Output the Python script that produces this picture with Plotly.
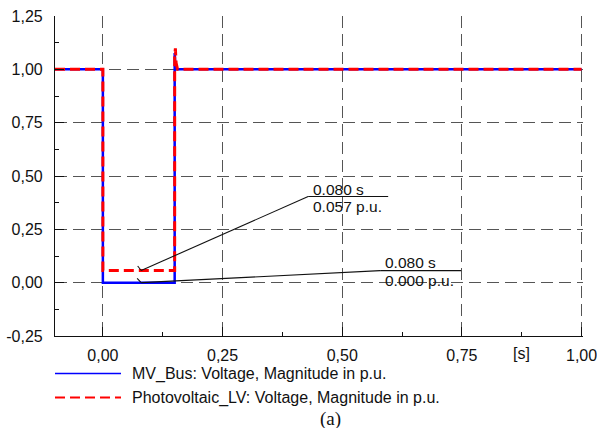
import plotly.graph_objects as go

# ---- data ----
t_mv = [-0.1, 0.0, 0.0, 0.08, 0.15, 0.15, 0.1505, 0.152, 0.155, 0.50, 1.0]
v_mv = [1.0, 1.0, 0.0, 0.0, 0.0, 1.076, 1.02, 1.0, 1.0, 1.0, 1.0]
t_pv = [-0.1, 0.0, 0.0, 0.08, 0.15, 0.15, 0.1515, 0.153, 0.156, 0.50, 1.0]
v_pv = [1.0, 1.0, 0.057, 0.057, 0.057, 1.06, 1.098, 1.03, 1.0, 1.0, 1.0]

cursor_t = [0.080, 0.080]
cursor_v = [0.057, 0.000]

x_tickvals = [0.0, 0.25, 0.5, 0.75, 1.0]
x_ticktext = ["0,00", "0,25", "0,50", "0,75", "1,00"]
y_tickvals = [-0.25, 0.0, 0.25, 0.5, 0.75, 1.0, 1.25]
y_ticktext = ["-0,25", "0,00", "0,25", "0,50", "0,75", "1,00", "1,25"]

names = ["MV_Bus: Voltage, Magnitude in p.u.",
         "Photovoltaic_LV: Voltage, Magnitude in p.u."]

FONT = "Liberation Sans, Arial, sans-serif"
BLUE = "#0000ff"
RED = "#ff0000"
FS = 16

fig = go.Figure()
fig.add_trace(go.Scatter(x=t_mv, y=v_mv, mode="lines", name=names[0],
                         line=dict(color=BLUE, width=2.5)))
fig.add_trace(go.Scatter(x=t_pv, y=v_pv, mode="lines", name=names[1],
                         line=dict(color=RED, width=3, dash="10px,5px")))

grid = dict(showgrid=True, gridcolor="#555555", gridwidth=1, griddash="12px,6px")
axcommon = dict(ticks="inside", ticklen=9, tickcolor="#111", tickwidth=1.2,
                showline=True, linecolor="#111", linewidth=1.2, zeroline=False,
                automargin=False, ticklabeloverflow="allow",
                minor=dict(dtick=0.125, tick0=0, ticks="inside", ticklen=4,
                           tickcolor="#111", showgrid=False),
                tickfont=dict(family=FONT, size=FS, color="#111"), **grid)

fig.update_xaxes(range=[-0.1, 1.003], tickvals=x_tickvals, ticktext=x_ticktext,
                 ticklabelstandoff=5, **axcommon)
fig.update_yaxes(range=[-0.25, 1.25], tickvals=y_tickvals, ticktext=y_ticktext,
                 ticklabelstandoff=8, **axcommon)

shapes = []
annotations = []

# cursor callouts (pixel offsets relative to the data point)
callouts = [
    dict(line=(167, 74), under=(167, 247), top=81.5, bot=64, tick=(-3.5, 4.5)),
    dict(line=(239, 12), under=(239, 320), top=20, bot=2.5, tick=(-4, 4.4)),
]
for ct, cv, c in zip(cursor_t, cursor_v, callouts):
    common = dict(type="line", xref="x", yref="y", xsizemode="pixel", ysizemode="pixel",
                  xanchor=ct, yanchor=cv, line=dict(color="#111", width=1.1))
    shapes.append(dict(common, x0=0, y0=0, x1=c["line"][0], y1=c["line"][1]))
    shapes.append(dict(common, x0=c["under"][0], y0=c["line"][1],
                       x1=c["under"][1], y1=c["line"][1]))
    shapes.append(dict(common, x0=c["tick"][0], y0=c["tick"][1], x1=0, y1=0))
    for txt, dy in ((f"{ct:.3f} s", c["top"]), (f"{cv:.3f} p.u.", c["bot"])):
        annotations.append(dict(x=ct, y=cv, xref="x", yref="y", text=txt,
                                showarrow=False, xanchor="left", yanchor="middle",
                                xshift=c["line"][0] + 4, yshift=dy, borderpad=0,
                                font=dict(family=FONT, size=15.5, color="#111")))

# manual legend below plot
for i, (nm, col, dash) in enumerate(zip(names, [BLUE, RED], ["solid", "10px,5px"])):
    dy = -37.5 - 24 * i
    shapes.append(dict(type="line", xref="paper", yref="paper", xsizemode="pixel",
                       ysizemode="pixel", xanchor=0, yanchor=0, x0=0, x1=66, y0=dy, y1=dy,
                       line=dict(color=col, width=1.5 if i == 0 else 2, dash=dash)))
    annotations.append(dict(x=0, y=0, xref="paper", yref="paper", text=nm,
                            showarrow=False, xanchor="left", yanchor="middle",
                            xshift=75, yshift=dy,
                            font=dict(family=FONT, size=FS, color="#111")))

annotations.append(dict(x=0.875, y=0, xref="x", yref="paper", text="[s]",
                        showarrow=False, xanchor="center", yanchor="middle",
                        yshift=-17.5, font=dict(family=FONT, size=FS, color="#111")))
annotations.append(dict(x=0.5227, y=0, xref="paper", yref="paper", text="(a)",
                        showarrow=False, xanchor="center", yanchor="middle",
                        yshift=-83, font=dict(family="Liberation Serif, Times New Roman, serif",
                                              size=19, color="#111")))

fig.update_layout(width=597, height=428, margin=dict(l=55, r=14, t=16, b=92),
                  paper_bgcolor="white", plot_bgcolor="white", showlegend=False,
                  shapes=shapes, annotations=annotations)

fig.write_html("out.html")
